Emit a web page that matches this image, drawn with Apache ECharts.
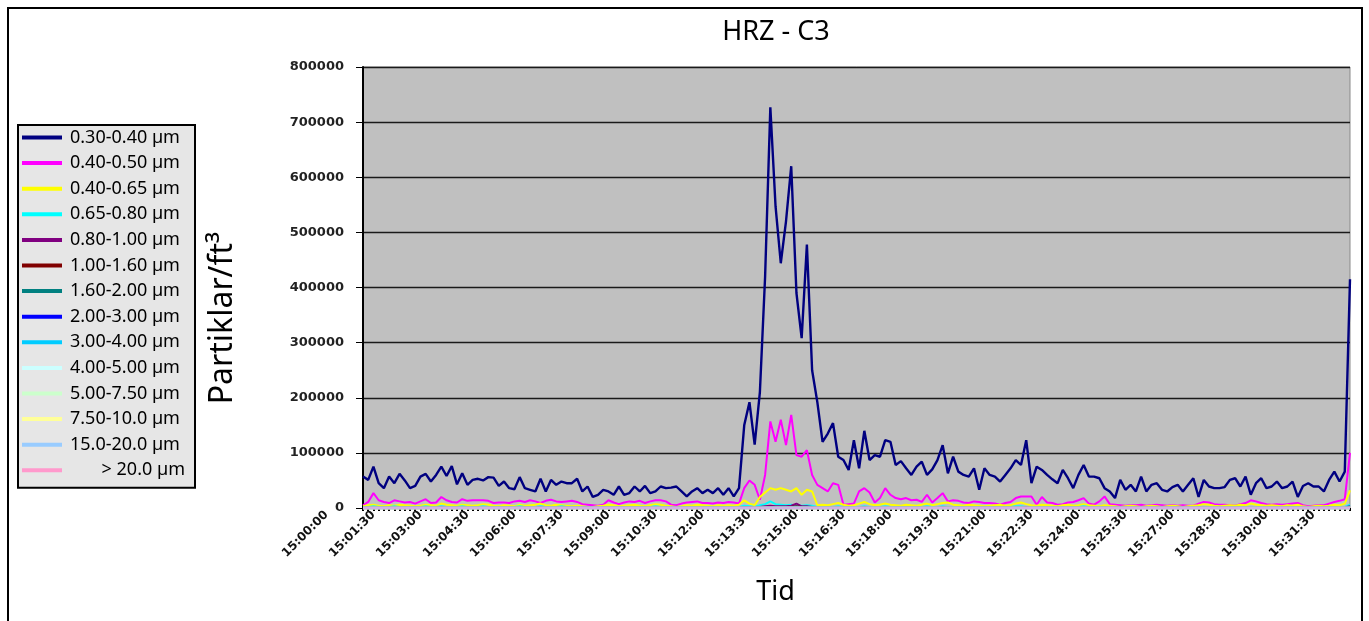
<!DOCTYPE html>
<html><head><meta charset="utf-8">
<script src="https://cdn.jsdelivr.net/npm/echarts@6/dist/echarts.min.js"></script>
<style>html,body{margin:0;padding:0;background:#fff;}#c{width:1369px;height:621px;}</style>
</head><body><div id="c"></div>
<script>
// ---- data (values in thousands of particles / ft³) ----
const startTime = '15:00:00';
const stepSeconds = 10;
const pointCount = 190;
const yTicks = [0, 100000, 200000, 300000, 400000, 500000, 600000, 700000, 800000];
const seriesNames = ['0.30-0.40 µm','0.40-0.50 µm','0.40-0.65 µm','0.65-0.80 µm','0.80-1.00 µm','1.00-1.60 µm','1.60-2.00 µm','2.00-3.00 µm','3.00-4.00 µm','4.00-5.00 µm','5.00-7.50 µm','7.50-10.0 µm','15.0-20.0 µm','> 20.0 µm'];
const seriesColors = ['#000080','#FF00FF','#FFFF00','#00FFFF','#800080','#800000','#008080','#0000FF','#00CCFF','#CCFFFF','#CCFFCC','#FFFF99','#99CCFF','#FF99CC'];

const s030_040 = [
57,51,75,45,36,57,45,62,50,36,
40,57,62,48,60,75,58,76,43,63,
42,51,53,50,56,55,40,48,36,34,
56,36,33,30,53,30,51,42,48,45,
45,53,30,39,20,24,33,30,24,39,
24,27,39,30,40,27,30,39,36,37,
39,30,21,30,36,27,33,27,36,24,
36,21,36,150,192,115,210,420,727,547,
444,520,620,390,308,478,250,192,120,135,
154,93,87,69,123,72,140,87,96,93,
123,120,78,85,72,60,75,84,60,70,
87,114,63,93,66,60,57,72,33,72,
60,57,48,60,72,87,78,123,45,75,
69,60,52,45,69,54,36,60,78,57,
57,54,36,30,18,51,33,42,30,57,
30,42,45,33,30,38,42,30,42,54,
20,51,39,36,36,38,51,54,39,57,
24,45,54,36,39,48,36,39,48,20,
40,45,39,39,30,51,66,48,66,415];
const s040_050 = [
5,11,27,14,11,9,14,12,10,11,
8,12,16,9,10,20,14,11,10,16,
13,14,14,14,13,9,10,10,9,12,
13,11,14,12,9,13,15,12,11,12,
13,11,7,6,5,4,6,14,10,7,
10,12,11,13,9,12,14,14,12,6,
5,8,10,11,12,9,9,8,10,9,
11,10,8,36,50,42,15,60,157,120,
160,114,169,96,93,105,60,42,36,30,
45,42,6,7,8,30,36,28,10,18,
36,24,18,16,18,14,15,11,24,10,
18,27,12,14,13,10,9,12,11,9,
9,8,6,9,11,18,21,21,21,6,
20,10,9,6,7,10,11,14,18,8,
6,12,21,7,6,5,4,5,5,6,
4,5,6,5,4,5,4,5,4,4,
8,11,10,7,6,6,5,4,7,9,
14,12,9,7,6,7,6,7,8,9,
5,3,4,5,5,8,11,13,16,100];
const s040_065 = [
3,5,6,4,3,5,4,6,5,4,
3,4,6,5,4,8,6,5,4,6,
5,4,5,7,6,4,3,5,4,3,
6,4,5,6,8,5,4,6,5,4,
3,4,3,2,2,3,4,6,5,3,
4,5,6,4,3,5,7,6,4,3,
2,3,5,4,6,5,4,3,5,4,
5,4,6,14,8,5,20,28,36,33,
36,33,30,36,24,33,30,5,6,5,
7,9,6,4,5,8,11,7,5,6,
8,6,5,4,6,5,4,6,8,5,
7,9,10,6,5,4,6,5,4,3,
4,5,6,4,5,8,10,7,5,4,
6,5,4,3,5,6,4,5,7,5,
4,3,5,4,3,2,3,4,3,2,
3,4,3,2,3,4,3,2,3,4,
5,7,6,4,3,4,5,4,6,5,
8,6,5,4,5,4,3,5,4,6,
3,2,3,4,3,4,6,5,8,32];
const s065_080 = [
2,2,3,2,2,2,3,2,2,2,
2,2,3,2,2,3,2,2,2,3,
2,2,2,3,2,2,2,2,2,2,
3,2,2,2,3,2,2,2,3,2,
2,2,2,1,1,1,2,2,2,2,
2,2,2,2,2,2,3,2,2,2,
1,1,2,2,2,2,2,2,2,2,
2,2,2,4,3,2,5,7,12,7,
6,5,6,5,4,5,4,2,2,2,
2,3,2,2,2,2,3,2,2,2,
3,2,2,2,2,2,2,2,3,2,
2,3,2,2,2,2,2,2,2,2,
2,2,2,2,2,3,3,2,2,2,
2,2,2,1,2,2,2,2,3,2,
2,2,2,1,1,1,1,1,1,1,
1,1,1,1,1,1,1,1,1,1,
2,2,2,1,1,1,1,1,2,2,
2,2,2,1,1,1,1,1,2,2,
1,1,1,1,1,2,2,2,2,6];
const s080_100 = [
1,1,1,1,1,1,1,1,1,1,
1,1,1,1,1,2,1,1,1,1,
1,1,1,1,1,1,1,1,1,1,
1,1,1,1,2,1,1,1,1,1,
1,1,1,1,1,1,1,1,1,1,
1,1,1,1,1,1,1,1,1,1,
1,1,1,1,1,1,1,1,1,1,
1,1,1,2,2,1,2,3,4,3,
3,3,4,8,3,3,2,1,1,1,
1,1,1,1,1,1,2,1,1,1,
1,1,1,1,1,1,1,1,1,1,
1,2,1,1,1,1,1,1,1,1,
1,1,1,1,1,1,1,2,1,1,
1,1,1,1,1,1,1,1,1,1,
1,1,1,1,1,1,1,1,1,1,
1,1,1,1,1,1,1,1,1,1,
1,1,1,1,1,1,1,1,1,1,
1,1,1,1,1,1,1,1,1,1,
1,1,1,1,1,1,1,1,1,3];
const s100_160 = [
0.5,0.5,0.5,0.5,0.5,0.5,0.5,0.5,0.5,0.5,
0.5,0.5,0.5,0.5,0.5,0.5,0.5,0.5,0.5,0.5,
0.5,0.5,0.5,0.5,0.5,0.5,0.5,0.5,0.5,0.5,
0.5,0.5,0.5,0.5,0.5,0.5,0.5,0.5,0.5,0.5,
0.5,0.5,0.5,0.5,0.5,0.5,0.5,0.5,0.5,0.5,
0.5,0.5,0.5,0.5,0.5,0.5,0.5,0.5,0.5,0.5,
0.5,0.5,0.5,0.5,0.5,0.5,0.5,0.5,0.5,0.5,
0.5,0.5,0.5,1,1,0.5,1,1.5,2,1.5,
1.5,1.5,2,3,1.5,1.5,1,0.5,0.5,0.5,
0.5,0.5,0.5,0.5,0.5,0.5,0.5,0.5,0.5,0.5,
0.5,0.5,0.5,0.5,0.5,0.5,0.5,0.5,0.5,0.5,
0.5,0.5,0.5,0.5,0.5,0.5,0.5,0.5,0.5,0.5,
0.5,0.5,0.5,0.5,0.5,0.5,0.5,0.5,0.5,0.5,
0.5,0.5,0.5,0.5,0.5,0.5,0.5,0.5,0.5,0.5,
0.5,0.5,0.5,0.5,0.5,0.5,0.5,0.5,0.5,0.5,
0.5,0.5,0.5,0.5,0.5,0.5,0.5,0.5,0.5,0.5,
0.5,0.5,0.5,0.5,0.5,0.5,0.5,0.5,0.5,0.5,
0.5,0.5,0.5,0.5,0.5,0.5,0.5,0.5,0.5,0.5,
0.5,0.5,0.5,0.5,0.5,0.5,0.5,0.5,0.5,1.5];
const s160_200 = [
0.3,0.3,0.3,0.3,0.3,0.3,0.3,0.3,0.3,0.3,
0.3,0.3,0.3,0.3,0.3,0.3,0.3,0.3,0.3,0.3,
0.3,0.3,0.3,0.3,0.3,0.3,0.3,0.3,0.3,0.3,
0.3,0.3,0.3,0.3,0.3,0.3,0.3,0.3,0.3,0.3,
0.3,0.3,0.3,0.3,0.3,0.3,0.3,0.3,0.3,0.3,
0.3,0.3,0.3,0.3,0.3,0.3,0.3,0.3,0.3,0.3,
0.3,0.3,0.3,0.3,0.3,0.3,0.3,0.3,0.3,0.3,
0.3,0.3,0.3,0.5,0.5,0.3,0.5,0.8,1,0.8,
0.8,0.8,1,1.2,0.8,0.8,0.5,0.3,0.3,0.3,
0.3,0.3,0.3,0.3,0.3,0.3,0.3,0.3,0.3,0.3,
0.3,0.3,0.3,0.3,0.3,0.3,0.3,0.3,0.3,0.3,
0.3,0.3,0.3,0.3,0.3,0.3,0.3,0.3,0.3,0.3,
0.3,0.3,0.3,0.3,0.3,0.3,0.3,0.3,0.3,0.3,
0.3,0.3,0.3,0.3,0.3,0.3,0.3,0.3,0.3,0.3,
0.3,0.3,0.3,0.3,0.3,0.3,0.3,0.3,0.3,0.3,
0.3,0.3,0.3,0.3,0.3,0.3,0.3,0.3,0.3,0.3,
0.3,0.3,0.3,0.3,0.3,0.3,0.3,0.3,0.3,0.3,
0.3,0.3,0.3,0.3,0.3,0.3,0.3,0.3,0.3,0.3,
0.3,0.3,0.3,0.3,0.3,0.3,0.3,0.3,0.3,0.6];
const s200_300 = [
0.2,0.2,0.2,0.2,0.2,0.2,0.2,0.2,0.2,0.2,
0.2,0.2,0.2,0.2,0.2,0.2,0.2,0.2,0.2,0.2,
0.2,0.2,0.2,0.2,0.2,0.2,0.2,0.2,0.2,0.2,
0.2,0.2,0.2,0.2,0.2,0.2,0.2,0.2,0.2,0.2,
0.2,0.2,0.2,0.2,0.2,0.2,0.2,0.2,0.2,0.2,
0.2,0.2,0.2,0.2,0.2,0.2,0.2,0.2,0.2,0.2,
0.2,0.2,0.2,0.2,0.2,0.2,0.2,0.2,0.2,0.2,
0.2,0.2,0.2,0.3,0.3,0.2,0.3,0.5,0.6,0.5,
0.5,0.5,0.6,0.7,0.5,0.5,0.3,0.2,0.2,0.2,
0.2,0.2,0.2,0.2,0.2,0.2,0.2,0.2,0.2,0.2,
0.2,0.2,0.2,0.2,0.2,0.2,0.2,0.2,0.2,0.2,
0.2,0.2,0.2,0.2,0.2,0.2,0.2,0.2,0.2,0.2,
0.2,0.2,0.2,0.2,0.2,0.2,0.2,0.2,0.2,0.2,
0.2,0.2,0.2,0.2,0.2,0.2,0.2,0.2,0.2,0.2,
0.2,0.2,0.2,0.2,0.2,0.2,0.2,0.2,0.2,0.2,
0.2,0.2,0.2,0.2,0.2,0.2,0.2,0.2,0.2,0.2,
0.2,0.2,0.2,0.2,0.2,0.2,0.2,0.2,0.2,0.2,
0.2,0.2,0.2,0.2,0.2,0.2,0.2,0.2,0.2,0.2,
0.2,0.2,0.2,0.2,0.2,0.2,0.2,0.2,0.2,0.4];
const s300_400 = [
0.1,0.1,0.1,0.1,0.1,0.1,0.1,0.1,0.1,0.1,
0.1,0.1,0.1,0.1,0.1,0.1,0.1,0.1,0.1,0.1,
0.1,0.1,0.1,0.1,0.1,0.1,0.1,0.1,0.1,0.1,
0.1,0.1,0.1,0.1,0.1,0.1,0.1,0.1,0.1,0.1,
0.1,0.1,0.1,0.1,0.1,0.1,0.1,0.1,0.1,0.1,
0.1,0.1,0.1,0.1,0.1,0.1,0.1,0.1,0.1,0.1,
0.1,0.1,0.1,0.1,0.1,0.1,0.1,0.1,0.1,0.1,
0.1,0.1,0.1,0.2,0.2,0.1,0.2,0.3,0.3,0.3,
0.3,0.3,0.3,0.4,0.3,0.3,0.2,0.1,0.1,0.1,
0.1,0.1,0.1,0.1,0.1,0.1,0.1,0.1,0.1,0.1,
0.1,0.1,0.1,0.1,0.1,0.1,0.1,0.1,0.1,0.1,
0.1,0.1,0.1,0.1,0.1,0.1,0.1,0.1,0.1,0.1,
0.1,0.1,0.1,0.1,0.1,0.1,0.1,0.1,0.1,0.1,
0.1,0.1,0.1,0.1,0.1,0.1,0.1,0.1,0.1,0.1,
0.1,0.1,0.1,0.1,0.1,0.1,0.1,0.1,0.1,0.1,
0.1,0.1,0.1,0.1,0.1,0.1,0.1,0.1,0.1,0.1,
0.1,0.1,0.1,0.1,0.1,0.1,0.1,0.1,0.1,0.1,
0.1,0.1,0.1,0.1,0.1,0.1,0.1,0.1,0.1,0.1,
0.1,0.1,0.1,0.1,0.1,0.1,0.1,0.1,0.1,0.2];
const s400_500 = [
0,0,0,0,0,0,0,0,0,0, 0,0,0,0,0,0,0,0,0,0, 0,0,0,0,0,0,0,0,0,0, 0,0,0,0,0,0,0,0,0,0,
0,0,0,0,0,0,0,0,0,0, 0,0,0,0,0,0,0,0,0,0, 0,0,0,0,0,0,0,0,0,0, 0,0,0,0,0,0,0,0,0,0,
0,0,0,0,0,0,0,0,0,0, 0,0,0,0,0,0,0,0,0,0, 0,0,0,0,0,0,0,0,0,0, 0,0,0,0,0,0,0,0,0,0,
0,0,0,0,0,0,0,0,0,0, 0,0,0,0,0,0,0,0,0,0, 0,0,0,0,0,0,0,0,0,0, 0,0,0,0,0,0,0,0,0,0,
0,0,0,0,0,0,0,0,0,0, 0,0,0,0,0,0,0,0,0,0, 0,0,0,0,0,0,0,0,0,0];
const s500_750 = [
0,0,0,0,0,0,0,0,0,0, 0,0,0,0,0,0,0,0,0,0, 0,0,0,0,0,0,0,0,0,0, 0,0,0,0,0,0,0,0,0,0,
0,0,0,0,0,0,0,0,0,0, 0,0,0,0,0,0,0,0,0,0, 0,0,0,0,0,0,0,0,0,0, 0,0,0,0,0,0,0,0,0,0,
0,0,0,0,0,0,0,0,0,0, 0,0,0,0,0,0,0,0,0,0, 0,0,0,0,0,0,0,0,0,0, 0,0,0,0,0,0,0,0,0,0,
0,0,0,0,0,0,0,0,0,0, 0,0,0,0,0,0,0,0,0,0, 0,0,0,0,0,0,0,0,0,0, 0,0,0,0,0,0,0,0,0,0,
0,0,0,0,0,0,0,0,0,0, 0,0,0,0,0,0,0,0,0,0, 0,0,0,0,0,0,0,0,0,0];
const s750_1000 = [
0,0,0,0,0,0,0,0,0,0, 0,0,0,0,0,0,0,0,0,0, 0,0,0,0,0,0,0,0,0,0, 0,0,0,0,0,0,0,0,0,0,
0,0,0,0,0,0,0,0,0,0, 0,0,0,0,0,0,0,0,0,0, 0,0,0,0,0,0,0,0,0,0, 0,0,0,0,0,0,0,0,0,0,
0,0,0,0,0,0,0,0,0,0, 0,0,0,0,0,0,0,0,0,0, 0,0,0,0,0,0,0,0,0,0, 0,0,0,0,0,0,0,0,0,0,
0,0,0,0,0,0,0,0,0,0, 0,0,0,0,0,0,0,0,0,0, 0,0,0,0,0,0,0,0,0,0, 0,0,0,0,0,0,0,0,0,0,
0,0,0,0,0,0,0,0,0,0, 0,0,0,0,0,0,0,0,0,0, 0,0,0,0,0,0,0,0,0,0];
const s1500_2000 = [
0,0,0,0,0,0,0,0,0,0, 0,0,0,0,0,0,0,0,0,0, 0,0,0,0,0,0,0,0,0,0, 0,0,0,0,0,0,0,0,0,0,
0,0,0,0,0,0,0,0,0,0, 0,0,0,0,0,0,0,0,0,0, 0,0,0,0,0,0,0,0,0,0, 0,0,0,0,0,0,0,0,0,0,
0,0,0,0,0,0,0,0,0,0, 0,0,0,0,0,0,0,0,0,0, 0,0,0,0,0,0,0,0,0,0, 0,0,0,0,0,0,0,0,0,0,
0,0,0,0,0,0,0,0,0,0, 0,0,0,0,0,0,0,0,0,0, 0,0,0,0,0,0,0,0,0,0, 0,0,0,0,0,0,0,0,0,0,
0,0,0,0,0,0,0,0,0,0, 0,0,0,0,0,0,0,0,0,0, 0,0,0,0,0,0,0,0,0,0];
const sOver2000 = [
0,0,0,0,0,0,0,0,0,0, 0,0,0,0,0,0,0,0,0,0, 0,0,0,0,0,0,0,0,0,0, 0,0,0,0,0,0,0,0,0,0,
0,0,0,0,0,0,0,0,0,0, 0,0,0,0,0,0,0,0,0,0, 0,0,0,0,0,0,0,0,0,0, 0,0,0,0,0,0,0,0,0,0,
0,0,0,0,0,0,0,0,0,0, 0,0,0,0,0,0,0,0,0,0, 0,0,0,0,0,0,0,0,0,0, 0,0,0,0,0,0,0,0,0,0,
0,0,0,0,0,0,0,0,0,0, 0,0,0,0,0,0,0,0,0,0, 0,0,0,0,0,0,0,0,0,0, 0,0,0,0,0,0,0,0,0,0,
0,0,0,0,0,0,0,0,0,0, 0,0,0,0,0,0,0,0,0,0, 0,0,0,0,0,0,0,0,0,0];
const seriesValues = [s030_040,s040_050,s040_065,s065_080,s080_100,s100_160,s160_200,s200_300,s300_400,s400_500,s500_750,s750_1000,s1500_2000,sOver2000];
const UNIT = 1000;

// ---- category labels (time stamps every 10 s) ----
function buildCategories() {
  const p = startTime.split(':').map(Number);
  let t = p[0] * 3600 + p[1] * 60 + p[2];
  const out = [];
  for (let i = 0; i < pointCount; i++, t += stepSeconds) {
    const h = Math.floor(t / 3600), m = Math.floor(t / 60) % 60, s = t % 60;
    out.push([h, m, s].map(v => String(v).padStart(2, '0')).join(':'));
  }
  return out;
}
const categories = buildCategories();

const chart = echarts.init(document.getElementById('c'), null, {renderer: 'canvas'});
const FONT = 'Noto Sans';
const GRID = {left: 363, right: 19, top: 67, bottom: 113};
const LABEL_SHIFT = 36.5; // the reference draws its rotated time labels this far left of their ticks
const option = {
  animation: false,
  backgroundColor: '#ffffff',
  title: {
    text: 'HRZ - C3', left: 771, top: 14, textAlign: 'center',
    textStyle: {fontFamily: FONT, fontSize: 27, fontWeight: 'normal', color: '#000'}
  },
  graphic: [{
    type: 'rect', z: 100, silent: true,
    shape: {x: 8, y: 8, width: 1354, height: 640},
    style: {fill: 'none', stroke: '#000', lineWidth: 2}
  }],
  legend: {
    orient: 'vertical', left: 18, top: 125,
    padding: [2, 10, 7, 4],
    itemWidth: 40, itemHeight: 4, itemGap: 4.6,
    icon: 'rect',
    backgroundColor: '#E6E6E6', borderColor: '#000', borderWidth: 2,
    data: seriesNames,
    formatter: n => n === '> 20.0 µm' ? '{r|' + n + '}' : n,
    textStyle: {
      fontFamily: FONT, fontSize: 18, color: '#000', lineHeight: 21, padding: [0, 0, 0, 3],
      rich: {r: {fontFamily: FONT, fontSize: 18, color: '#000', lineHeight: 21, width: 115, align: 'right'}}
    }
  },
  grid: [
    Object.assign({outerBoundsMode: 'none', containLabel: false,
      show: true, backgroundColor: '#C0C0C0', borderColor: '#8a8a8a', borderWidth: 1}, GRID),
    {left: GRID.left - LABEL_SHIFT, right: GRID.right + LABEL_SHIFT, top: GRID.top, bottom: GRID.bottom,
      outerBoundsMode: 'none', containLabel: false, show: false}
  ],
  xAxis: [{
    type: 'category', data: categories, boundaryGap: false, gridIndex: 0,
    name: 'Tid', nameLocation: 'middle', nameGap: 71,
    nameTextStyle: {fontFamily: FONT, fontSize: 27, color: '#000', padding: [0, 162, 0, 0]},
    axisLine: {show: true, lineStyle: {color: '#000', width: 1}},
    axisTick: {show: true, interval: 0, length: 3, lineStyle: {color: '#000', width: 2}},
    axisLabel: {show: false},
    splitLine: {show: false}
  }, {
    type: 'category', data: categories, boundaryGap: false, gridIndex: 1,
    axisLine: {show: false}, axisTick: {show: false}, splitLine: {show: false},
    axisLabel: {
      interval: 8, rotate: 45, margin: 5,
      fontFamily: 'DejaVu Sans', fontWeight: 'bold', fontSize: 12, color: '#111'
    }
  }],
  yAxis: [{
    type: 'value', gridIndex: 0, min: yTicks[0], max: yTicks[yTicks.length - 1], interval: yTicks[1] - yTicks[0],
    name: 'Partiklar/ft³', nameLocation: 'middle', nameGap: 124, nameRotate: 90,
    nameTextStyle: {fontFamily: FONT, fontSize: 32, color: '#000', padding: [0, 61, 0, 0]},
    axisLine: {show: true, lineStyle: {color: '#000', width: 2}},
    axisTick: {show: true, length: 7, lineStyle: {color: '#000', width: 1}},
    axisLabel: {
      margin: 19, fontFamily: 'DejaVu Sans', fontWeight: 'bold', fontSize: 13, color: '#222',
      formatter: v => String(v)
    },
    splitLine: {show: true, lineStyle: {color: '#1a1a1a', width: 1.3}}
  }, {
    type: 'value', gridIndex: 1, show: false, min: yTicks[0], max: yTicks[yTicks.length - 1]
  }],
  series: seriesNames.map((name, k) => ({
    name, type: 'line', symbol: 'none', showSymbol: false,
    xAxisIndex: 0, yAxisIndex: 0,
    clip: k < 4,
    data: seriesValues[k].map(v => v * UNIT),
    itemStyle: {color: seriesColors[k]},
    lineStyle: {color: seriesColors[k], width: k === 0 ? 2.4 : (k >= 9 ? 2.6 : 2),
      opacity: k === seriesNames.length - 1 ? 0.55 : 1},
    z: 2 + k
  }))
};
chart.setOption(option);
</script></body></html>
